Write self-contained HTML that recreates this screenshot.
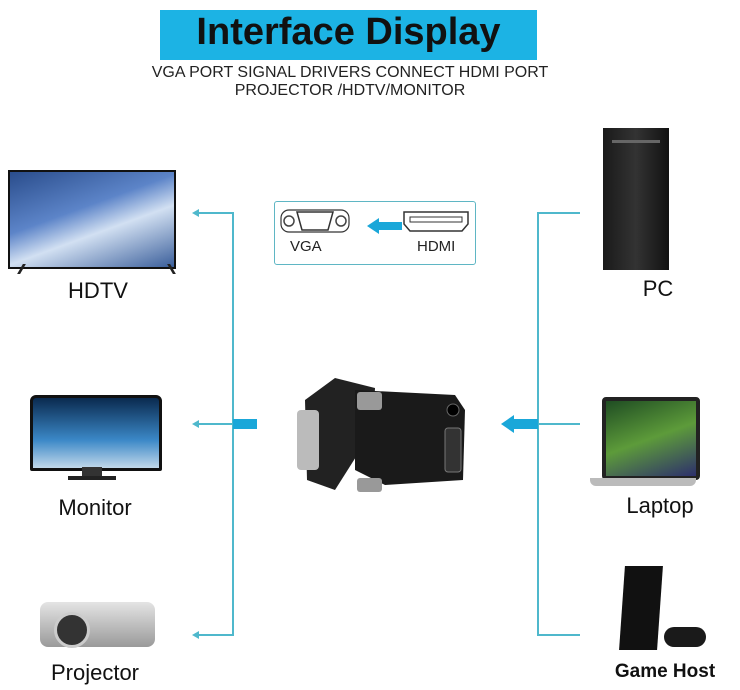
<!DOCTYPE html>
<html><head><style>
body{margin:0;width:740px;height:690px;background:#fff;position:relative;overflow:hidden;font-family:"Liberation Sans",sans-serif}
.a{position:absolute}
.lbl{position:absolute;font-size:22px;color:#111;text-align:center;width:180px}
.ln{position:absolute;background:#4fb8cc}
</style></head><body>
<div class="a" style="left:160px;top:10px;width:377px;height:50px;background:#1cb3e4;"></div>
<div class="a" style="left:160px;top:11px;width:377px;text-align:center;font-weight:bold;font-size:38px;color:#111;">Interface Display</div>
<div class="a" style="left:120px;top:64px;width:460px;text-align:center;font-size:16px;line-height:18px;color:#222;">VGA PORT SIGNAL DRIVERS CONNECT HDMI PORT<br>PROJECTOR /HDTV/MONITOR</div>

<div class="ln" style="left:232px;top:212px;width:2px;height:424px"></div>
<div class="ln" style="left:197px;top:212px;width:36px;height:2px"></div>
<div class="ln" style="left:197px;top:423px;width:36px;height:2px"></div>
<div class="ln" style="left:197px;top:634px;width:36px;height:2px"></div>
<div class="ln" style="left:233px;top:419px;width:24px;height:10px;background:#1aa7d9"></div>
<div class="a" style="left:192px;top:209px;border-right:7px solid #4fb8cc;border-top:4px solid transparent;border-bottom:4px solid transparent"></div>
<div class="a" style="left:192px;top:420px;border-right:7px solid #4fb8cc;border-top:4px solid transparent;border-bottom:4px solid transparent"></div>
<div class="a" style="left:192px;top:631px;border-right:7px solid #4fb8cc;border-top:4px solid transparent;border-bottom:4px solid transparent"></div>
<div class="ln" style="left:537px;top:212px;width:2px;height:424px"></div>
<div class="ln" style="left:537px;top:212px;width:43px;height:2px"></div>
<div class="ln" style="left:537px;top:423px;width:43px;height:2px"></div>
<div class="ln" style="left:537px;top:634px;width:43px;height:2px"></div>
<div class="ln" style="left:513px;top:419px;width:25px;height:10px;background:#1aa7d9"></div>
<div class="a" style="left:501px;top:415px;border-right:13px solid #1aa7d9;border-top:9px solid transparent;border-bottom:9px solid transparent"></div>

<div class="a" style="left:274px;top:201px;width:200px;height:62px;border:1.5px solid #5fb6c4;border-radius:3px"></div>
<svg class="a" style="left:280px;top:208px" width="190" height="30">
<circle cx="9" cy="13" r="5" fill="none" stroke="#444" stroke-width="1.5"/><circle cx="61" cy="13" r="5" fill="none" stroke="#444" stroke-width="1.5"/>
<path d="M17 4 H53 L48 22 H22 Z" fill="none" stroke="#333" stroke-width="1.5"/>
<rect x="1" y="2" width="68" height="22" rx="8" fill="none" stroke="#333" stroke-width="1.2"/>
<rect x="97" y="14" width="25" height="8" fill="#1aa7d9"/><path d="M87 18 L99 10 V26 Z" fill="#1aa7d9"/>
<path d="M124 4 H188 V16 L182 23 H130 L124 16 Z" fill="none" stroke="#333" stroke-width="1.5"/>
<path d="M130 9 H182 V14 H130 Z" fill="none" stroke="#333" stroke-width="1"/>
</svg>
<div class="a" style="left:290px;top:238px;font-size:15px;color:#222">VGA</div>
<div class="a" style="left:417px;top:238px;font-size:15px;color:#222">HDMI</div>

<svg class="a" style="left:295px;top:370px" width="180" height="130">
<path d="M10 30 L40 8 L80 18 L78 60 L40 120 L12 110 Z" fill="#222"/>
<rect x="2" y="40" width="22" height="60" fill="#bbb" rx="4"/>
<path d="M60 20 L160 25 L170 40 L168 110 L90 115 L60 100 Z" fill="#1a1a1a"/>
<rect x="62" y="22" width="25" height="18" fill="#999" rx="3"/>
<rect x="62" y="108" width="25" height="14" fill="#999" rx="3"/>
<rect x="150" y="58" width="16" height="44" fill="#333" stroke="#777" rx="3"/>
<circle cx="158" cy="40" r="6" fill="#000" stroke="#666"/>
</svg>

<div class="a" style="left:8px;top:170px;width:164px;height:95px;background:linear-gradient(160deg,#2a4d8c,#5c84c8 40%,#d2e0f2 60%,#3b5f9b);border:2px solid #111"></div>
<div class="a" style="left:20px;top:264px;width:20px;height:10px;border-left:3px solid #222;transform:skewX(-30deg)"></div>
<div class="a" style="left:150px;top:264px;width:20px;height:10px;border-right:3px solid #222;transform:skewX(30deg)"></div>
<div class="lbl" style="left:8px;top:278px">HDTV</div>
<div class="a" style="left:30px;top:395px;width:126px;height:70px;background:linear-gradient(180deg,#0a2a4f,#3b88c7 60%,#c1d8ea);border:3px solid #111;border-radius:6px 6px 2px 2px"></div>
<div class="a" style="left:82px;top:467px;width:20px;height:10px;background:#333"></div>
<div class="a" style="left:68px;top:476px;width:48px;height:4px;background:#222"></div>
<div class="lbl" style="left:5px;top:495px">Monitor</div>
<div class="a" style="left:40px;top:602px;width:115px;height:45px;background:linear-gradient(#e4e4e4,#9a9a9a);border-radius:8px"></div>
<div class="a" style="left:54px;top:612px;width:30px;height:30px;border-radius:50%;background:#333;border:3px solid #ccc"></div>
<div class="lbl" style="left:5px;top:660px">Projector</div>

<div class="a" style="left:603px;top:128px;width:66px;height:142px;background:linear-gradient(90deg,#1a1a1a,#333 50%,#111)"></div>
<div class="a" style="left:612px;top:140px;width:48px;height:3px;background:#666"></div>
<div class="lbl" style="left:568px;top:276px">PC</div>
<div class="a" style="left:602px;top:397px;width:90px;height:75px;background:linear-gradient(160deg,#1f4d23,#5d9b3a 50%,#2d2f6c);border:4px solid #222;border-radius:4px"></div>
<div class="a" style="left:590px;top:478px;width:106px;height:8px;background:#bbb;border-radius:0 0 6px 6px"></div>
<div class="lbl" style="left:570px;top:493px">Laptop</div>
<div class="a" style="left:622px;top:566px;width:38px;height:84px;background:#111;transform:skewX(-4deg)"></div>
<div class="a" style="left:664px;top:627px;width:42px;height:20px;background:#1a1a1a;border-radius:10px"></div>
<div class="lbl" style="left:575px;top:661px;font-weight:bold;font-size:19px">Game Host</div>
</body></html>
